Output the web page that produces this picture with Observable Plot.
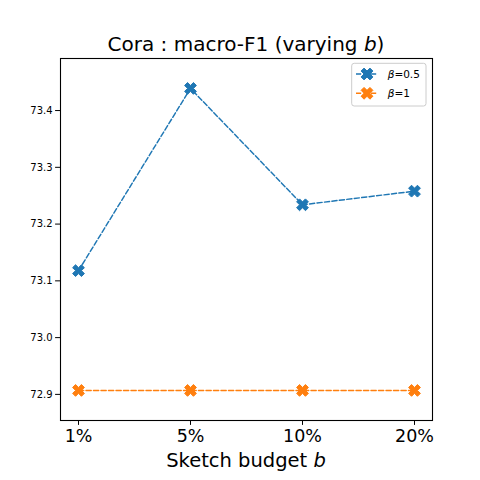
<!DOCTYPE html>
<html><head><meta charset="utf-8">
<script src="https://cdn.jsdelivr.net/npm/d3@7"></script>
<script src="https://cdn.jsdelivr.net/npm/@observablehq/plot@0.6"></script>
<style>body{margin:0;background:#fff} svg{font-family:"DejaVu Sans",sans-serif}</style>
</head><body><div id="chart"></div>
<script>
const budgets = ["1%", "5%", "10%", "20%"];
const beta05 = [73.118, 73.439, 73.234, 73.258];
const beta1 = [72.907, 72.907, 72.907, 72.907];
const seriesNames = ["β=0.5", "β=1"];
const yTicks = [72.9, 73.0, 73.1, 73.2, 73.3, 73.4];
const colors = ["#1f77b4", "#ff7f0e"];

const data = [
  ...budgets.map((b, i) => ({b, v: beta05[i], s: seriesNames[0]})),
  ...budgets.map((b, i) => ({b, v: beta1[i], s: seriesNames[1]}))
];

const xPts = [[0.25,0],[0.5,0.25],[0.25,0.5],[0,0.25],[-0.25,0.5],[-0.5,0.25],[-0.25,0],[-0.5,-0.25],[-0.25,-0.5],[0,-0.25],[0.25,-0.5],[0.5,-0.25]];
const xFilled = {
  draw(ctx, size) {
    const k = Math.sqrt(size / Math.PI) * 2;
    xPts.forEach(([px, py], i) => i ? ctx.lineTo(px * k, py * k) : ctx.moveTo(px * k, py * k));
    ctx.closePath();
  }
};

const chart = Plot.plot({
  width: 480, height: 480,
  marginLeft: 60, marginRight: 48, marginTop: 58, marginBottom: 60,
  x: {type: "point", domain: budgets, padding: 0.149},
  y: {domain: [72.854, 73.4917]},
  color: {domain: seriesNames, range: colors},
  marks: [
    Plot.axisY({ticks: yTicks, tickFormat: d3.format(".1f"), tickSize: 4.9, tickPadding: 3, fontSize: 10, label: null, stroke: "#000", color: "#000"}),
    Plot.axisX({tickSize: 4.9, tickPadding: 4, fontSize: 17.5, label: null, color: "#000"}),
    Plot.line(data, {x: "b", y: "v", z: "s", stroke: "s", strokeWidth: 1.45, strokeDasharray: "5.2,2.3"}),
    Plot.dot(data, {x: "b", y: "v", fill: "s", stroke: "s", strokeWidth: 1, r: 5.9, symbol: xFilled}),
    Plot.frame({stroke: "#000", strokeWidth: 1.1})
  ]
});
document.getElementById("chart").appendChild(chart);

const svg = d3.select(chart);
// Title
const t = svg.append("text").attr("x", 246).attr("y", 51).attr("text-anchor", "middle")
  .attr("font-size", 20).attr("fill", "#000");
t.append("tspan").text("Cora : macro-F1 (varying ");
t.append("tspan").attr("font-style", "italic").text("b");
t.append("tspan").text(")");
// X label
const xl = svg.append("text").attr("x", 246).attr("y", 466.5).attr("text-anchor", "middle")
  .attr("font-size", 19.5).attr("fill", "#000");
xl.append("tspan").text("Sketch budget ");
xl.append("tspan").attr("font-style", "italic").text("b");
// Legend
const lg = svg.append("g");
lg.append("rect").attr("x", 351.7).attr("y", 63.3).attr("width", 74.3).attr("height", 42.7)
  .attr("rx", 2.5).attr("fill", "#fff").attr("fill-opacity", 0.8).attr("stroke", "#cccccc").attr("stroke-width", 1);
seriesNames.forEach((name, i) => {
  const cy = 74 + i * 19.3;
  lg.append("line").attr("x1", 356).attr("x2", 378).attr("y1", cy).attr("y2", cy)
    .attr("stroke", colors[i]).attr("stroke-width", 1.45).attr("stroke-dasharray", "5.2,2.3");
  lg.append("path").attr("transform", `translate(367,${cy})`)
    .attr("d", d3.symbol(xFilled, Math.PI * 5.9 * 5.9)()).attr("fill", colors[i]).attr("stroke", colors[i]).attr("stroke-width", 1);
  const parts = name.split("=");
  const tx = lg.append("text").attr("x", 387.7).attr("y", cy).attr("dy", "0.36em").attr("text-anchor", "start")
    .attr("font-size", 10.5).attr("fill", "#000");
  tx.append("tspan").attr("font-style", "italic").text(parts[0]);
  tx.append("tspan").text("=" + parts[1]);
});
</script>
</body></html>
